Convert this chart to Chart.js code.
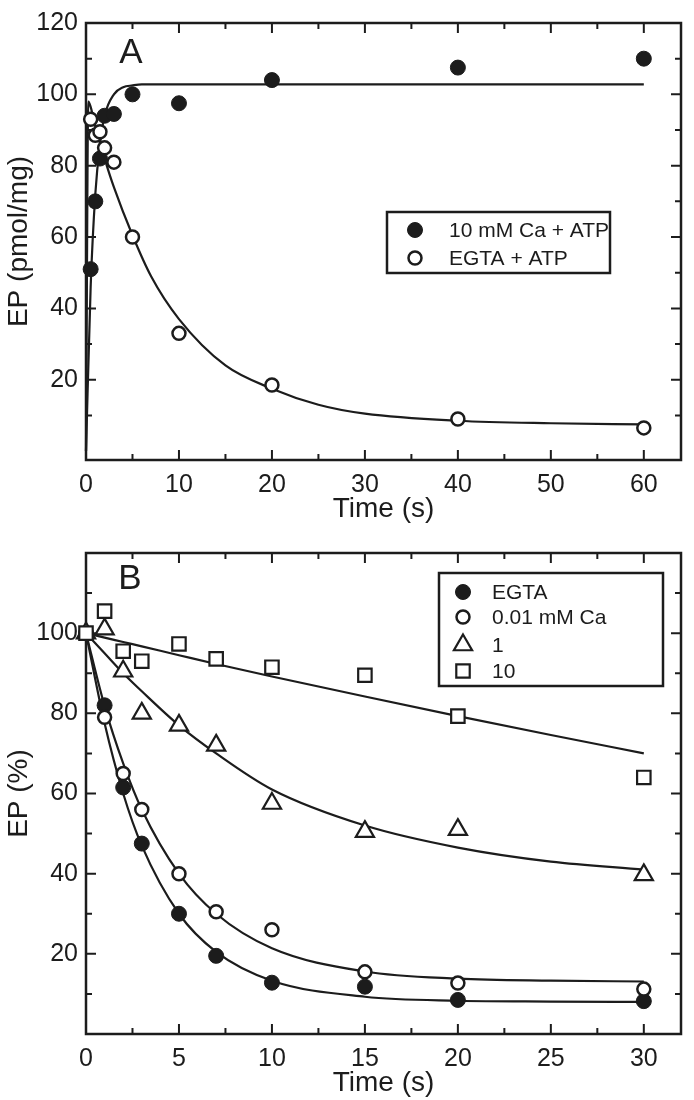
<!DOCTYPE html>
<html>
<head>
<meta charset="utf-8">
<script src="https://cdn.jsdelivr.net/npm/chart.js@4.4.1/dist/chart.umd.min.js"></script>
<style>
  html, body { margin: 0; padding: 0; background: #fff; }
  #wrapA { position: absolute; left: 0; top: 0; width: 694px; height: 530px; }
  #wrapB { position: absolute; left: 0; top: 530px; width: 694px; height: 570px; }
</style>
</head>
<body>
<div id="wrapA"><canvas id="chartA"></canvas></div>
<div id="wrapB"><canvas id="chartB"></canvas></div>
<script>
// ---- Panel A data (EP, pmol/mg vs time, s)
const timeA = [0.5, 1, 1.5, 2, 3, 5, 10, 20, 40, 60];
const epCaATP = [51, 70, 82, 94, 94.5, 100, 97.5, 104, 107.5, 110];
const epEgtaATP = [93, 88.5, 89.5, 85, 81, 60, 33, 18.5, 9, 6.5];
// fitted curves
const fitTimeCaA = [0, 0.5, 1, 1.5, 2, 3, 4, 5, 6, 60];
const fitCaA = [0, 46, 72, 86, 94, 100, 102, 102.5, 102.8, 102.8];
const fitTimeEgtaA = [0, 0.25, 0.5, 1, 2, 3, 5, 7, 10, 15, 20, 25, 30, 40, 50, 60];
const fitEgtaA = [0, 98, 96.5, 91, 82, 74, 60.5, 49, 37, 24, 17.5, 13, 10.5, 8.5, 7.8, 7.5];
const xTicksA = [0, 10, 20, 30, 40, 50, 60];
const xMinorA = [5, 15, 25, 35, 45, 55];
const yTicksA = [20, 40, 60, 80, 100, 120];
const yMinorA = [10, 30, 50, 70, 90, 110];

// ---- Panel B data (EP, % vs time, s)
const timeB = [0, 1, 2, 3, 5, 7, 10, 15, 20, 30];
const epEGTA = [100, 82, 61.5, 47.5, 30, 19.5, 12.8, 11.8, 8.5, 8.2];
const epCa001 = [100, 79, 65, 56, 40, 30.5, 26, 15.5, 12.7, 11.2];
const epCa1 = [100, 101, 90.5, 80, 77, 72, 57.5, 50.5, 51, 39.7];
const epCa10 = [100, 105.5, 95.5, 93, 97.3, 93.6, 91.5, 89.5, 79.3, 64];
const fitTimeB = [0, 1, 2, 3, 5, 7, 10, 15, 20, 25, 30];
const fitEGTA = [100, 77.5, 60, 47, 30, 20.5, 13.3, 9.3, 8.3, 8.1, 8];
const fitCa001 = [100, 81.8, 67.5, 56, 40, 30, 21.4, 15.6, 13.8, 13.3, 13.1];
const fitCa1 = [100, 95, 90, 85.5, 77, 70, 61, 52, 46.5, 43, 41];
const fitCa10 = [100, 98.9, 97.8, 96.7, 94.5, 92.3, 89.2, 84.2, 79.3, 74.6, 70];
const xTicksB = [0, 5, 10, 15, 20, 25, 30];
const xMinorB = [2.5, 7.5, 12.5, 17.5, 22.5, 27.5];
const yTicksB = [20, 40, 60, 80, 100];
const yMinorB = [10, 30, 50, 70, 90, 110];

const INK = '#1c1c1c';
const FONT = "'Liberation Sans', Arial, Helvetica, sans-serif";

const pair = (xs, ys) => xs.map((x, i) => ({ x: x, y: ys[i] }));

// marker looks
const MK = {
  filled: { pointStyle: 'circle', pointRadius: 7.5, pointBorderWidth: 1, pointBackgroundColor: INK },
  open: { pointStyle: 'circle', pointRadius: 6.5, pointBorderWidth: 2.5, pointBackgroundColor: '#fff' },
  tri: { pointStyle: 'triangle', pointRadius: 10.5, pointBorderWidth: 2.2, pointBackgroundColor: '#fff' },
  sq: { pointStyle: 'rect', pointRadius: 9.5, pointBorderWidth: 2.2, pointBackgroundColor: '#fff' }
};

function points(xs, ys, mk, order) {
  return Object.assign({
    data: pair(xs, ys), showLine: false, pointBorderColor: INK,
    pointHoverRadius: mk.pointRadius, clip: false, order: order
  }, mk);
}

function curve(xs, ys) {
  return {
    data: pair(xs, ys), showLine: true, pointRadius: 0, borderColor: INK,
    borderWidth: 2.2, cubicInterpolationMode: 'monotone', clip: false, order: 10
  };
}

function drawMarker(ctx, mk, x, y) {
  const r = mk.pointRadius;
  ctx.save();
  ctx.lineWidth = mk.pointBorderWidth;
  ctx.strokeStyle = INK;
  ctx.fillStyle = mk.pointBackgroundColor;
  ctx.beginPath();
  if (mk.pointStyle === 'circle') {
    ctx.arc(x, y, r, 0, Math.PI * 2);
  } else if (mk.pointStyle === 'triangle') {
    for (let k = 0; k < 3; k++) {
      const a = k * 2 * Math.PI / 3;
      const px = x + Math.sin(a) * r, py = y - Math.cos(a) * r;
      if (k === 0) ctx.moveTo(px, py); else ctx.lineTo(px, py);
    }
    ctx.closePath();
  } else {
    const s = Math.SQRT1_2 * r;
    ctx.rect(x - s, y - s, 2 * s, 2 * s);
  }
  ctx.fill();
  ctx.stroke();
  ctx.restore();
}

// frame with inward ticks on all four sides, panel letter, legend
const framePlugin = {
  id: 'frame',
  beforeDatasetsDraw(chart, args, o) {
    const { ctx, chartArea: a, scales: { x, y } } = chart;
    ctx.save();
    ctx.strokeStyle = INK;
    ctx.lineWidth = 2.5;
    ctx.strokeRect(a.left, a.top, a.right - a.left, a.bottom - a.top);
    ctx.lineWidth = 2;
    ctx.beginPath();
    const xt = (vals, len) => vals.forEach(v => {
      const px = x.getPixelForValue(v);
      ctx.moveTo(px, a.bottom); ctx.lineTo(px, a.bottom - len);
      ctx.moveTo(px, a.top); ctx.lineTo(px, a.top + len);
    });
    const yt = (vals, len) => vals.forEach(v => {
      const py = y.getPixelForValue(v);
      ctx.moveTo(a.left, py); ctx.lineTo(a.left + len, py);
      ctx.moveTo(a.right, py); ctx.lineTo(a.right - len, py);
    });
    xt(o.xMajor, 10); xt(o.xMinor, 6);
    yt(o.yMajor, 10); yt(o.yMinor, 6);
    ctx.stroke();

    ctx.fillStyle = INK;
    ctx.font = '35px ' + FONT;
    ctx.textAlign = 'center';
    ctx.textBaseline = 'middle';
    ctx.fillText(o.letter, a.left + o.letterAt[0], a.top + o.letterAt[1]);
    ctx.restore();
  },
  afterDraw(chart, args, o) {
    const ctx = chart.ctx;
    const b = o.legendBox;
    ctx.save();
    ctx.fillStyle = '#fff';
    ctx.fillRect(b[0], b[1], b[2] - b[0], b[3] - b[1]);
    ctx.strokeStyle = INK;
    ctx.lineWidth = 2.5;
    ctx.strokeRect(b[0], b[1], b[2] - b[0], b[3] - b[1]);
    ctx.font = '21px ' + FONT;
    ctx.textAlign = 'left';
    ctx.textBaseline = 'middle';
    ctx.fillStyle = INK;
    o.legend.forEach((it, i) => {
      const yy = o.legendRows[i];
      drawMarker(ctx, it.mk, o.legendMarkX, yy);
      ctx.fillStyle = INK;
      ctx.fillText(it.label, o.legendTextX, yy + 1);
    });
    ctx.restore();
  }
};

function scales(xmin, xmax, xTicks, ymin, ymax, yTicks, xPad) {
  const tickFont = { family: FONT, size: 25 };
  const titleFont = { family: FONT, size: 28 };
  return {
    x: {
      type: 'linear', min: xmin, max: xmax,
      grid: { display: false, drawTicks: false }, border: { display: false },
      afterBuildTicks: s => { s.ticks = xTicks.map(v => ({ value: v })); },
      afterFit: s => { s.height = xPad.h; },
      ticks: { font: tickFont, color: INK, padding: 10, maxRotation: 0, autoSkip: false },
      title: { display: true, text: 'Time (s)', font: titleFont, color: INK, padding: { top: 0, bottom: xPad.title } }
    },
    y: {
      type: 'linear', min: ymin, max: ymax,
      grid: { display: false, drawTicks: false }, border: { display: false },
      afterBuildTicks: s => { s.ticks = yTicks.map(v => ({ value: v })); },
      afterFit: s => { s.width = 86; },
      ticks: { font: tickFont, color: INK, padding: 8, autoSkip: false },
      title: { display: true, text: xPad.ytitle, font: titleFont, color: INK, padding: { top: 2, bottom: 0 } }
    }
  };
}

function baseOptions(sc, plug, top) {
  return {
    responsive: true, maintainAspectRatio: false, animation: false, devicePixelRatio: 1,
    layout: { padding: { top: top, right: 13, left: 0, bottom: 0 } },
    plugins: { legend: { display: false }, tooltip: { enabled: false }, frame: plug },
    scales: sc
  };
}

new Chart(document.getElementById('chartA'), {
  type: 'scatter',
  data: {
    datasets: [
      points(timeA, epEgtaATP, MK.open, 1),
      points(timeA, epCaATP, MK.filled, 2),
      curve(fitTimeCaA, fitCaA),
      curve(fitTimeEgtaA, fitEgtaA)
    ]
  },
  options: baseOptions(
    scales(0, 64, xTicksA, -2.5, 120, yTicksA, { h: 70, title: 4, ytitle: 'EP (pmol/mg)' }),
    {
      xMajor: xTicksA, xMinor: xMinorA, yMajor: yTicksA, yMinor: yMinorA,
      letter: 'A', letterAt: [45, 30.5],
      legendBox: [387, 212, 610, 273], legendMarkX: 415, legendTextX: 449, legendRows: [230, 258],
      legend: [{ mk: MK.filled, label: '10 mM Ca + ATP' }, { mk: MK.open, label: 'EGTA + ATP' }]
    }, 12),
  plugins: [framePlugin]
});

new Chart(document.getElementById('chartB'), {
  type: 'scatter',
  data: {
    datasets: [
      points(timeB, epCa10, MK.sq, 1),
      points(timeB, epCa1, MK.tri, 2),
      points(timeB, epCa001, MK.open, 3),
      points(timeB, epEGTA, MK.filled, 4),
      curve(fitTimeB, fitEGTA),
      curve(fitTimeB, fitCa001),
      curve(fitTimeB, fitCa1),
      curve(fitTimeB, fitCa10)
    ]
  },
  options: baseOptions(
    scales(0, 32, xTicksB, 0, 120, yTicksB, { h: 66, title: 0, ytitle: 'EP (%)' }),
    {
      xMajor: xTicksB, xMinor: xMinorB, yMajor: yTicksB, yMinor: yMinorB,
      letter: 'B', letterAt: [44, 26.5],
      legendBox: [439, 43, 663, 156], legendMarkX: 463, legendTextX: 492, legendRows: [62, 87, 115, 141],
      legend: [
        { mk: MK.filled, label: 'EGTA' }, { mk: MK.open, label: '0.01 mM Ca' },
        { mk: MK.tri, label: '1' }, { mk: MK.sq, label: '10' }
      ]
    }, 22),
  plugins: [framePlugin]
});
</script>
</body>
</html>
